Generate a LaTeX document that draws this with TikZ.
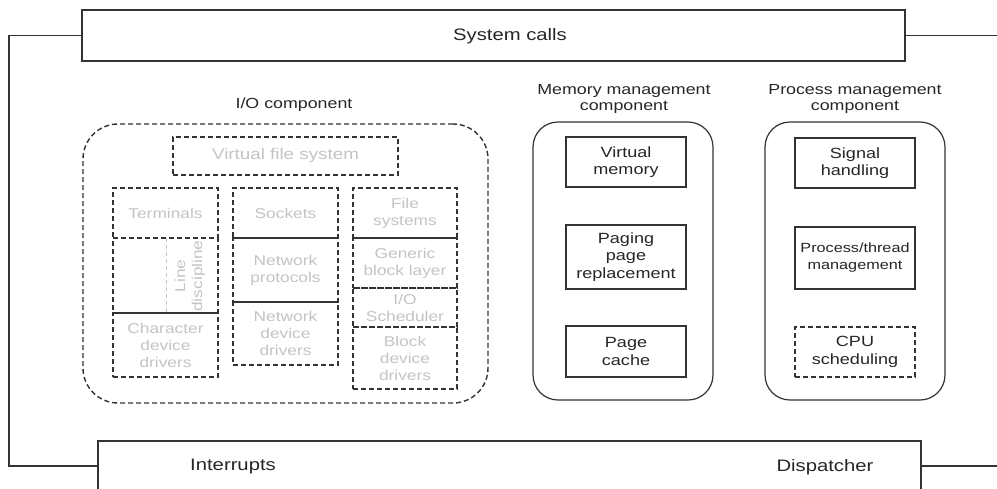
\documentclass[tikz,border=0pt]{standalone}
\usepackage{fontspec}
\setmainfont{Liberation Sans}[FakeStretch=1.22]
\usetikzlibrary{positioning}
\definecolor{ink}{HTML}{333333}
\definecolor{txt}{HTML}{262626}
\definecolor{faint}{HTML}{C4C4C4}
\newcommand{\bigtxt}{\fontsize{16.6}{19}\selectfont}
\newcommand{\midtxt}{\fontsize{14.6}{16}\selectfont}
\newcommand{\boxtxt}{\fontsize{14.8}{17.5}\selectfont}
\newcommand{\iotxt}{\fontsize{14.2}{17}\selectfont}
\tikzset{
  rect/.style={draw=ink, line width=1.2pt, inner sep=0pt, align=center, text=txt},
  solidbox/.style={rect, font=\boxtxt},
  dashbox/.style={rect, dash pattern=on 5pt off 3pt, font=\boxtxt},
  iobox/.style={rect, dash pattern=on 5pt off 3pt, text=faint, font=\iotxt},
  container/.style={draw=ink, line width=1.2pt, inner sep=0pt},
  caption/.style={text=txt, font=\midtxt, align=center, inner sep=0pt},
  wire/.style={draw=ink, line width=1.2pt},
}
\begin{document}
\begin{tikzpicture}[x=1pt, y=-1pt]
\useasboundingbox (0,0) rectangle (997,488);
\clip (0,0) rectangle (997,488);
\fill[white] (0,0) rectangle (997,488);

% top and bottom bars
\node[rect, minimum width=823pt, minimum height=51pt] (sys) at (493.5,35.5) {};
\node[text=txt, font=\bigtxt] (syslbl) at (510,36) {System calls};
\node[rect, minimum width=823pt, minimum height=50pt] (bot) at (509.5,466) {};
\node[text=txt, font=\bigtxt] (intr) at (233,467) {Interrupts};
\node[text=txt, font=\bigtxt] (disp) at (825,467) {Dispatcher};

% side wires
\coordinate (wl) at (9,466);
\coordinate (wr1) at (997,35.5);
\coordinate (wr2) at (997,466);
\draw[wire] (sys.west) -| (wl) -- (bot.west);
\draw[wire] (sys.east) -- (wr1);
\draw[wire] (bot.east) -- (wr2);

% I/O component
\node[caption] (iolbl) at (294,105) {I/O component};
\node[container, dash pattern=on 5pt off 3pt, line width=1.4pt, rounded corners=35pt,
      minimum width=405pt, minimum height=279pt] (io) at (285.5,263.5) {};
\node[iobox, minimum width=225pt, minimum height=38pt, font=\fontsize{15.4}{18}\selectfont] (vfs) at (285.5,156) {Virtual file system};

\node[iobox, minimum width=105pt, minimum height=50pt] (term) at (165.5,213) {Terminals};
\node[iobox, minimum width=105pt, minimum height=75pt] (ldisc) at (165.5,275.5) {};
\node[iobox, minimum width=105pt, minimum height=64pt] (chr) at (165.5,345) {Character\\device\\drivers};
\coordinate (ldt) at (166,238);
\coordinate (ldb) at (166,313);
\draw[draw=faint, line width=0.9pt, dash pattern=on 4pt off 3pt] (ldt) -- (ldb);
\node[text=faint, font=\iotxt, align=center, rotate=90, inner sep=0pt] (ldlbl) at (190,276) {Line\\discipline};

\node[iobox, minimum width=105pt, minimum height=50pt] (sock) at (285.5,213) {Sockets};
\node[iobox, minimum width=105pt, minimum height=64pt] (nprot) at (285.5,270) {Network\\protocols};
\node[iobox, minimum width=105pt, minimum height=63pt] (ndev) at (285.5,333.5) {Network\\device\\drivers};

\node[iobox, minimum width=104pt, minimum height=50pt] (fs) at (405,213) {File\\systems};
\node[iobox, minimum width=104pt, minimum height=50pt] (gbl) at (405,263) {Generic\\block layer};
\node[iobox, minimum width=104pt, minimum height=39pt] (iosch) at (405,307.5) {I/O\\Scheduler};
\node[iobox, minimum width=104pt, minimum height=62pt] (bdev) at (405,358) {Block\\device\\drivers};

% Memory management component
\node[caption] (memlbl) at (624,99) {Memory management\\component};
\node[container, rounded corners=25pt, minimum width=180pt, minimum height=278pt] (mem) at (623,261) {};
\node[solidbox, minimum width=120pt, minimum height=50pt] (vm) at (626,162) {Virtual\\memory};
\node[solidbox, minimum width=120pt, minimum height=64pt] (pg) at (626,257) {Paging\\page\\replacement};
\node[solidbox, minimum width=120pt, minimum height=51pt] (pc) at (626,351.5) {Page\\cache};

% Process management component
\node[caption] (proclbl) at (855,99) {Process management\\component};
\node[container, rounded corners=25pt, minimum width=180pt, minimum height=278pt] (proc) at (855,261) {};
\node[solidbox, minimum width=120pt, minimum height=50pt] (sig) at (855,163) {Signal\\handling};
\node[solidbox, minimum width=120pt, minimum height=62pt, font=\fontsize{13.3}{17}\selectfont] (ptm) at (855,258) {Process/thread\\management};
\node[dashbox, minimum width=120pt, minimum height=50pt] (cpu) at (855,352) {CPU\\scheduling};
\end{tikzpicture}
\end{document}
